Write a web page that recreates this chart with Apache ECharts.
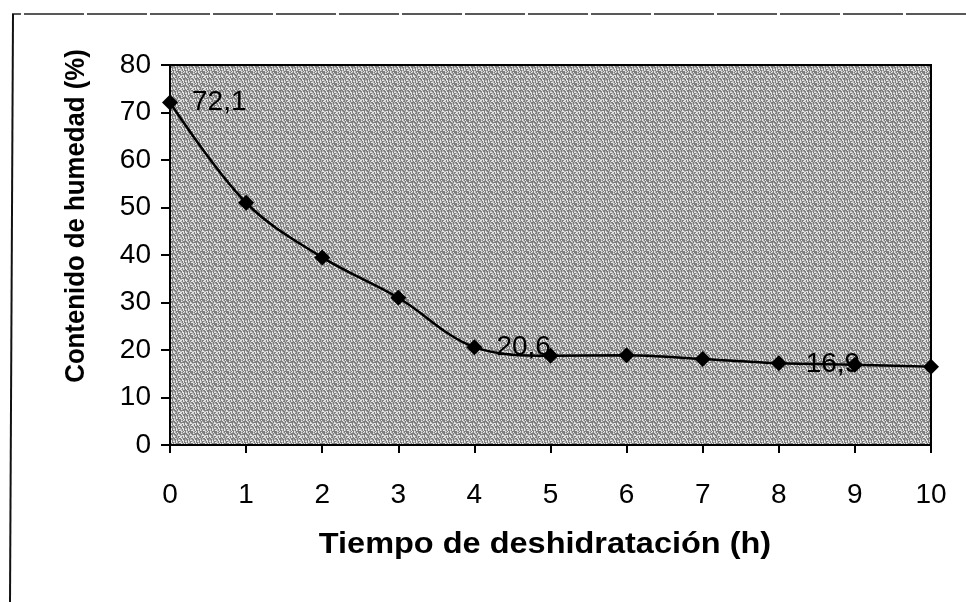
<!DOCTYPE html>
<html>
<head>
<meta charset="utf-8">
<script src="https://cdn.jsdelivr.net/npm/echarts@6/dist/echarts.min.js"></script>
<style>
html,body{margin:0;padding:0;background:#fff;}
#main{width:966px;height:602px;}
</style>
</head>
<body>
<div id="main"></div>
<script>
// Data
var hours = [0, 1, 2, 3, 4, 5, 6, 7, 8, 9, 10];
var humidity = [72.1, 51, 39.5, 31, 20.6, 18.8, 18.9, 18.1, 17.2, 16.9, 16.5];
var labeledIdx = [0, 4, 9];
var xTitle = 'Tiempo de deshidratación (h)';
var yTitle = 'Contenido de humedad (%)';

// stipple texture (deterministic dither)
var N = 12;
var cv = document.createElement('canvas');
cv.width = N; cv.height = N;
var cx = cv.getContext('2d');
cx.fillStyle = '#ffffff'; cx.fillRect(0,0,N,N);
for (var yy = 0; yy < N; yy++) {
  for (var xx = 0; xx < N; xx++) {
    var h = ((xx * 7 + yy * 13 + (xx * yy) % 5) % 11);
    var c = (h < 5) ? '#7e7e7e' : (h < 8 ? '#b8b8b8' : '#e6e6e6');
    cx.fillStyle = c; cx.fillRect(xx, yy, 1, 1);
  }
}

var chart = echarts.init(document.getElementById('main'), null, {renderer:'canvas'});
var data = hours.map(function(h,i){
  var d = {value:[h, humidity[i]]};
  if (labeledIdx.indexOf(i) >= 0) {
    d.label = {show:true};
    if (i === 9) d.label = {show:true, position:'inside', offset:[-22, 0]};
  }
  return d;
});
chart.setOption({
  animation:false,
  backgroundColor:'#fff',
  grid:{left:170, right:35, top:65, bottom:157, show:true,
        backgroundColor:{image:cv, repeat:'repeat'},
        borderColor:'#000', borderWidth:2},
  xAxis:{type:'value', min:0, max:10, interval:1,
    axisLine:{lineStyle:{color:'#000', width:2}},
    axisTick:{show:true, length:8, lineStyle:{color:'#000', width:2}},
    axisLabel:{fontFamily:'Liberation Sans', fontSize:28, color:'#000', margin:36},
    splitLine:{show:false}},
  yAxis:{type:'value', min:0, max:80, interval:10,
    axisLine:{show:true, lineStyle:{color:'#000', width:2}},
    axisTick:{show:true, length:9, lineStyle:{color:'#000', width:2}},
    axisLabel:{fontFamily:'Liberation Sans', fontSize:28, color:'#000', margin:19},
    splitLine:{show:false}},
  graphic:[
    {type:'polyline', shape:{points:[[966,14],[12,14]]},
     style:{stroke:'#222', lineWidth:1.5, fill:null, lineDash:[60,3]}},
    {type:'line', shape:{x1:13, y1:14, x2:10, y2:602},
     style:{stroke:'#111', lineWidth:2}},
    {type:'text', x:545, y:545, scaleX:1.12,
     style:{text:xTitle, fontFamily:'Liberation Sans', fontWeight:'bold', fontSize:29,
            fill:'#000', align:'center', verticalAlign:'middle'}},
    {type:'text', x:76, y:216, rotation:Math.PI/2, scaleX:0.92,
     style:{text:yTitle, fontFamily:'Liberation Sans', fontWeight:'bold', fontSize:28,
            fill:'#000', align:'center', verticalAlign:'middle'}}
  ],
  series:[{
    type:'line', data:data, smooth:0.35,
    lineStyle:{color:'#000', width:2.5},
    symbol:'diamond', symbolSize:16,
    itemStyle:{color:'#000'},
    label:{show:false, position:'right', distance:14,
      fontFamily:'Liberation Sans', fontSize:28, color:'#000',
      formatter:function(p){return String(p.value[1]).replace('.', ',');}}
  }]
});
</script>
</body>
</html>
